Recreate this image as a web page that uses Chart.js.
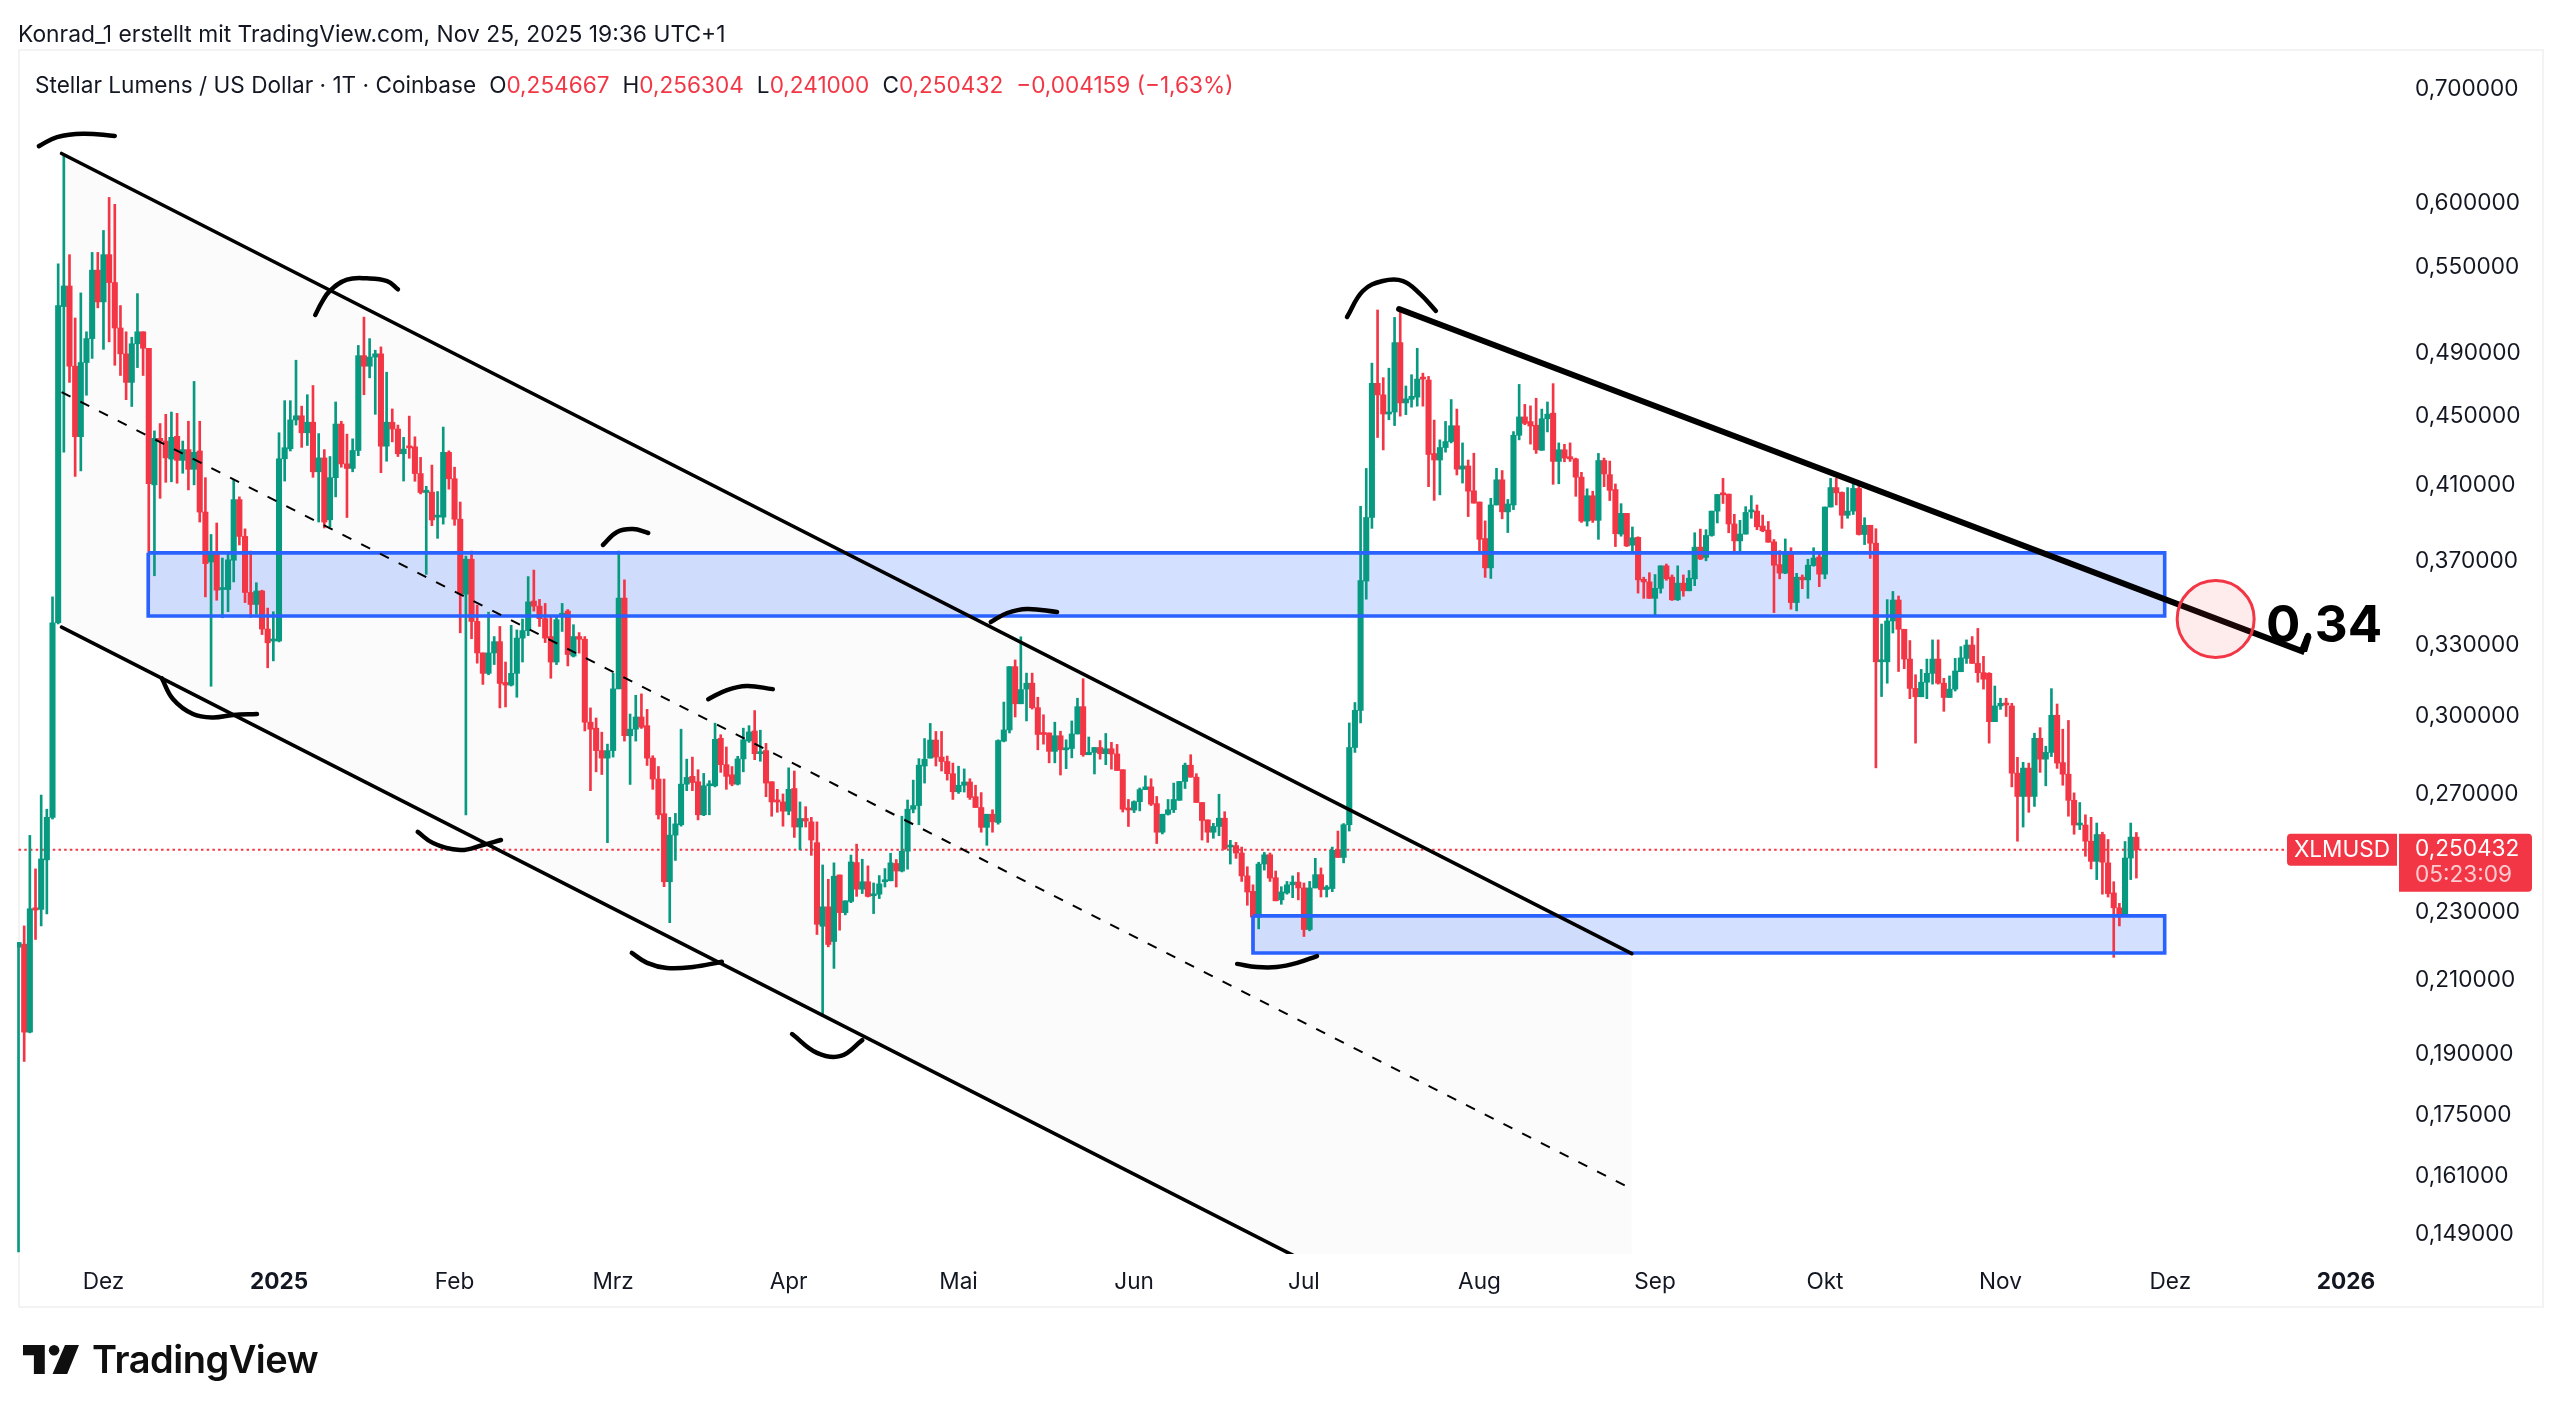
<!DOCTYPE html>
<html lang="de">
<head>
<meta charset="utf-8">
<title>XLMUSD</title>
<script src="https://cdn.jsdelivr.net/npm/chart.js@4"></script>
<style>
  html, body { margin: 0; padding: 0; background: #fff; }
  body { width: 2560px; height: 1419px; position: relative; overflow: hidden; font-family: Inter, "Noto Sans", sans-serif; color: #131722; }
  canvas { position: absolute; left: 0; top: 0; }
  .frame { position: absolute; left: 18px; top: 49px; width: 2522px; height: 1255px; border: 2px solid #f3f3f3; }
  .head { position: absolute; left: 18px; top: 20px; font-size: 22.8px; line-height: 28px; white-space: nowrap; }
  .legend { position: absolute; left: 35px; top: 71px; font-size: 22.6px; line-height: 28px; white-space: nowrap; }
  .legend b { font-weight: 400; margin-left: 13px; }
  .legend i { font-style: normal; color: #F23645; }
  .logo { position: absolute; left: 23px; top: 1336px; display: flex; align-items: center; font-size: 38px; font-weight: 600; letter-spacing: -0.5px; color: #0f0f0f; }
  .logo svg { margin-right: 13px; }
</style>
</head>
<body>
<div class="frame"></div>
<canvas id="chart" width="2560" height="1419"></canvas>
<div class="head">Konrad_1 erstellt mit TradingView.com, Nov 25, 2025 19:36 UTC+1</div>
<div class="legend">Stellar Lumens / US Dollar · 1T · Coinbase<b>O<i>0,254667</i></b><b>H<i>0,256304</i></b><b>L<i>0,241000</i></b><b>C<i>0,250432</i></b><b><i>−0,004159 (−1,63%)</i></b></div>
<div class="logo"><svg width="56" height="29" viewBox="0 0 36 18.6"><path fill="#0f0f0f" d="M0 0h14v18.6H7V6.5H0z"/><circle fill="#0f0f0f" cx="20" cy="3.4" r="3.4"/><path fill="#0f0f0f" d="M27 0h9l-7.6 18.6H19z"/></svg>TradingView</div>
<script>
// daily candles, day number counted from 1 Jan 2025
var firstDay = -46;
var opens = [
  .2195,.2204,.1957,.2315,.2310,.2470,.2616,.3403,.5217,.5364,
  .4813,.4376,.4837,.4996,.5480,.5250,.5596,.5389,.5068,.4894,
  .4709,.4961,.5042,.4931,.4100,.4366,.4350,.4245,.4378,.4238,
  .4300,.4187,.4292,.3952,.3694,.3744,.3559,.3559,.3703,.4019,
  .3824,.3545,.3488,.3552,.3374,.3320,
  .3320,.4247,.4305,.4476,.4501,.4399,.4462,.4173,.4252,.3911,
  .4140,.4451,.4218,.4192,.4295,.4882,.4813,.4873,.4894,.4320,
  .4462,.4421,.4276,.4316,.4316,.4163,.4058,.4060,.3925,.3925,
  .4284,.4134,.3914,.3537,.3708,.3409,.3267,.3178,.3267,.3317,
  .3139,.3128,.3178,.3333,.3367,.3504,.3480,.3422,.3340,.3227,
  .3436,.3457,.3253,.3340,.3328,.2975,.2951,.2863,.2834,.2863,
  .3112,.3518,.2921,.2947,.2996,.2961,.2834,.2755,.2629,.2398,
  .2554,.2590,.2736,.2765,.2745,.2625,.2730,.2730,.2911,.2809,
  .2771,.2736,.2831,.2901,.2940,.2851,.2863,.2745,.2675,.2671,
  .2638,.2720,.2582,.2612,.2600,.2528,.2258,.2318,.2212,.2420,
  .2300,.2335,.2461,.2374,.2398,.2353,.2358,.2398,.2401,.2458,
  .2433,.2499,.2645,.2658,.2804,.2834,.2904,.2838,.2821,.2775,
  .2708,.2732,.2744,.2690,.2651,.2581,.2627,.2598,.2900,.2944,
  .3207,.3050,.3111,.3136,.3034,.2932,.2932,.2860,.2921,.2866,
  .2871,.2928,.3038,.2847,.2856,.2875,.2851,.2870,.2850,.2790,
  .2647,.2642,.2672,.2716,.2726,.2665,.2564,.2627,.2643,.2677,
  .2746,.2807,.2762,.2669,.2607,.2564,.2584,.2613,.2513,.2518,
  .2493,.2417,.2367,.2286,.2456,.2487,.2411,.2340,.2362,.2388,
  .2397,.2378,.2248,.2378,.2421,.2373,.2376,.2505,.2478,.2590,
  .2875,.3023,.3600,.3923,.4703,.4630,.4512,.4524,.4969,.4580,
  .4602,.4616,.4739,.4724,.4277,.4240,.4312,.4347,.4441,.4188,
  .4206,.4067,.4006,.3813,.3665,.3990,.4128,.3953,.3990,.4384,
  .4494,.4466,.4444,.4296,.4483,.4517,.4232,.4299,.4259,.4246,
  .4143,.3904,.4040,.3908,.4237,.4157,.4074,.3836,.3945,.3779,
  .3819,.3609,.3596,.3517,.3565,.3675,.3619,.3510,.3590,.3553,
  .3611,.3769,.3717,.3829,.3957,.4050,.4049,.3889,.3801,.3836,
  .3953,.3957,.3878,.3857,.3796,.3681,.3639,.3745,.3497,.3619,
  .3606,.3676,.3719,.3634,.3979,.4085,.4058,.3935,.3957,.4080,
  .3834,.3882,.3789,.3228,.3228,.3411,.3509,.3373,.3240,.3114,
  .3079,.3140,.3178,.3240,.3136,.3076,.3111,.3185,.3243,.3302,
  .3221,.3181,.3178,.2977,.3041,.3052,.3041,.2777,.2691,.2796,
  .2691,.2911,.2830,.2856,.3003,.2817,.2773,.2677,.2589,.2589,
  .2533,.2465,.2556,.2460,.2362,.2315,.2294,.2476,.2547
];
var highs = [
  .2209,.2259,.2553,.2440,.2696,.2645,.3524,.5527,.6400,.5596,
  .5137,.5314,.5042,.5613,.5613,.5782,.6046,.5990,.5224,.5042,
  .5005,.5309,.5042,.4931,.4410,.4454,.4510,.4524,.4516,.4350,
  .4468,.4715,.4468,.4140,.3834,.3894,.3714,.3740,.4129,.4034,
  .3863,.3749,.3592,.3556,.3471,.3454,
  .4399,.4594,.4594,.4852,.4560,.4631,.4689,.4394,.4300,.4260,
  .4586,.4468,.4391,.4363,.4950,.5143,.4996,.4918,.4940,.4774,
  .4543,.4445,.4372,.4499,.4375,.4255,.4092,.4211,.4063,.4433,
  .4293,.4199,.4006,.3724,.3749,.3485,.3267,.3452,.3340,.3386,
  .3227,.3391,.3370,.3420,.3622,.3654,.3512,.3493,.3433,.3429,
  .3493,.3464,.3394,.3358,.3340,.3033,.2992,.2935,.2888,.3178,
  .3749,.3606,.3008,.3085,.3091,.3027,.2843,.2802,.2755,.2616,
  .2630,.2947,.2830,.2838,.2790,.2776,.2749,.2971,.2925,.2877,
  .2802,.2841,.2951,.2961,.3022,.2943,.2891,.2745,.2717,.2700,
  .2797,.2785,.2671,.2654,.2616,.2600,.2453,.2406,.2460,.2420,
  .2337,.2486,.2523,.2472,.2450,.2394,.2418,.2441,.2492,.2471,
  .2620,.2678,.2751,.2832,.2910,.2970,.2938,.2938,.2842,.2815,
  .2803,.2793,.2756,.2732,.2705,.2627,.2643,.2905,.3057,.3207,
  .3236,.3339,.3179,.3179,.3077,.3005,.2932,.2975,.2939,.2905,
  .2980,.3073,.3155,.2916,.2875,.2902,.2930,.2895,.2887,.2790,
  .2680,.2675,.2722,.2767,.2756,.2691,.2627,.2680,.2740,.2746,
  .2815,.2847,.2775,.2669,.2607,.2595,.2699,.2636,.2536,.2529,
  .2513,.2447,.2388,.2462,.2495,.2493,.2433,.2382,.2399,.2417,
  .2428,.2394,.2399,.2475,.2443,.2386,.2513,.2568,.2594,.2972,
  .3055,.3983,.4192,.4833,.5193,.4739,.4800,.5141,.5209,.4686,
  .4758,.4931,.4768,.4747,.4475,.4357,.4467,.4601,.4542,.4339,
  .4240,.4279,.4006,.3905,.4026,.4193,.4180,.4020,.4406,.4696,
  .4571,.4562,.4609,.4542,.4586,.4701,.4339,.4331,.4339,.4251,
  .4170,.4078,.4065,.4278,.4251,.4234,.4105,.3997,.3945,.3873,
  .3822,.3619,.3641,.3632,.3675,.3684,.3630,.3675,.3630,.3652,
  .3843,.3862,.3859,.3957,.4047,.4136,.4049,.3940,.3908,.3981,
  .4041,.3990,.3936,.3902,.3808,.3751,.3811,.3766,.3638,.3630,
  .3708,.3766,.3745,.3979,.4136,.4136,.4061,.4085,.4131,.4098,
  .3922,.3882,.3864,.3397,.3511,.3550,.3528,.3373,.3322,.3172,
  .3195,.3240,.3325,.3325,.3157,.3167,.3243,.3295,.3325,.3340,
  .3377,.3252,.3181,.3124,.3073,.3073,.3052,.2837,.2818,.2815,
  .2931,.2953,.2880,.3113,.3049,.2947,.2982,.2704,.2669,.2625,
  .2616,.2596,.2564,.2539,.2398,.2329,.2532,.2596,.2563
];
var lows = [
  .1454,.1881,.1955,.2218,.2259,.2296,.2610,.3397,.4285,.4709,
  .4147,.4178,.4628,.4864,.5208,.4924,.4974,.4819,.4753,.4600,
  .4558,.4804,.4753,.3552,.3626,.4026,.4114,.4117,.4109,.4165,
  .4072,.4100,.3899,.3524,.3123,.3508,.3426,.3454,.3596,.3780,
  .3497,.3428,.3443,.3349,.3202,.3232,
  .3316,.4121,.4292,.4445,.4313,.4324,.4142,.3899,.3868,.3873,
  .4034,.4199,.3923,.4173,.4265,.4631,.4738,.4510,.4168,.4233,
  .4345,.4260,.4121,.4250,.4120,.4050,.3633,.3880,.3814,.3888,
  .4076,.3882,.3357,.2625,.3330,.3222,.3131,.3172,.3216,.3033,
  .3037,.3124,.3077,.3227,.3344,.3457,.3386,.3313,.3157,.3216,
  .3363,.3210,.3249,.3266,.2940,.2712,.2782,.2772,.2528,.2838,
  .3112,.2900,.2735,.2900,.2950,.2806,.2717,.2610,.2382,.2269,
  .2468,.2585,.2712,.2712,.2607,.2622,.2625,.2726,.2780,.2717,
  .2730,.2733,.2782,.2895,.2828,.2822,.2690,.2620,.2634,.2585,
  .2625,.2546,.2504,.2582,.2485,.2233,.2000,.2196,.2133,.2246,
  .2293,.2331,.2351,.2360,.2349,.2297,.2344,.2381,.2401,.2381,
  .2430,.2439,.2632,.2590,.2740,.2834,.2804,.2785,.2751,.2680,
  .2702,.2707,.2680,.2651,.2564,.2519,.2564,.2592,.2897,.2932,
  .2996,.3050,.2980,.3028,.2866,.2888,.2816,.2816,.2770,.2794,
  .2835,.2928,.2841,.2847,.2774,.2830,.2809,.2792,.2787,.2635,
  .2584,.2633,.2639,.2716,.2658,.2525,.2558,.2624,.2633,.2677,
  .2720,.2762,.2669,.2537,.2529,.2543,.2552,.2505,.2456,.2475,
  .2399,.2323,.2184,.2250,.2436,.2399,.2337,.2326,.2358,.2347,
  .2340,.2227,.2244,.2378,.2349,.2349,.2366,.2478,.2460,.2568,
  .2856,.2972,.3513,.3866,.4371,.4298,.4477,.4442,.4499,.4508,
  .4554,.4560,.4560,.4090,.4015,.4045,.4285,.4339,.4155,.4110,
  .3928,.4000,.3745,.3618,.3613,.3990,.3916,.3844,.3965,.4357,
  .4447,.4332,.4278,.4296,.4404,.4103,.4106,.4230,.4232,.4037,
  .3897,.3878,.3897,.3809,.4090,.4014,.3772,.3825,.3772,.3744,
  .3542,.3517,.3517,.3439,.3542,.3604,.3507,.3507,.3527,.3553,
  .3578,.3706,.3700,.3825,.3894,.3998,.3843,.3741,.3742,.3836,
  .3919,.3859,.3848,.3794,.3450,.3611,.3636,.3466,.3458,.3563,
  .3517,.3673,.3573,.3611,.3979,.3990,.3866,.3919,.3939,.3831,
  .3782,.3712,.2797,.3080,.3136,.3356,.3186,.3198,.3071,.2892,
  .3079,.3071,.3132,.3132,.3019,.3076,.3103,.3185,.3221,.3221,
  .3140,.3111,.2892,.2977,.3027,.2998,.2726,.2533,.2582,.2634,
  .2655,.2780,.2730,.2840,.2795,.2732,.2620,.2557,.2573,.2482,
  .2440,.2405,.2358,.2349,.2165,.2259,.2294,.2405,.2410
];
var closes = [
  .2209,.1957,.2312,.2308,.2473,.2616,.3403,.5224,.5364,.4813,
  .4376,.4837,.4996,.5480,.5250,.5596,.5389,.5068,.4894,.4709,
  .4961,.5042,.4931,.4107,.4366,.4350,.4252,.4372,.4238,.4300,
  .4187,.4284,.3952,.3686,.3744,.3556,.3568,.3705,.4019,.3824,
  .3545,.3488,.3552,.3374,.3312,.3324,
  .4247,.4311,.4476,.4501,.4399,.4462,.4173,.4252,.3899,.4140,
  .4451,.4218,.4192,.4295,.4882,.4813,.4873,.4894,.4320,.4462,
  .4421,.4276,.4303,.4310,.4163,.4058,.4070,.3910,.3931,.4284,
  .4134,.3914,.3537,.3708,.3409,.3267,.3178,.3267,.3317,.3135,
  .3128,.3178,.3333,.3367,.3500,.3480,.3422,.3333,.3227,.3417,
  .3447,.3260,.3340,.3328,.2975,.2947,.2863,.2834,.2863,.3112,
  .3518,.2921,.2947,.2996,.2955,.2834,.2755,.2625,.2398,.2554,
  .2593,.2736,.2761,.2742,.2625,.2730,.2736,.2907,.2809,.2765,
  .2736,.2831,.2905,.2936,.2851,.2857,.2740,.2671,.2671,.2638,
  .2717,.2582,.2612,.2603,.2537,.2264,.2318,.2203,.2416,.2300,
  .2337,.2463,.2374,.2398,.2351,.2358,.2391,.2401,.2460,.2433,
  .2499,.2645,.2658,.2807,.2830,.2904,.2838,.2821,.2775,.2708,
  .2732,.2744,.2687,.2651,.2581,.2627,.2600,.2902,.2944,.3207,
  .3050,.3109,.3136,.3034,.2926,.2926,.2860,.2921,.2866,.2871,
  .2928,.3038,.2847,.2856,.2875,.2851,.2870,.2850,.2787,.2645,
  .2642,.2672,.2716,.2726,.2663,.2564,.2627,.2643,.2680,.2746,
  .2807,.2762,.2669,.2605,.2564,.2584,.2613,.2508,.2516,.2493,
  .2417,.2365,.2286,.2456,.2487,.2410,.2337,.2365,.2388,.2397,
  .2378,.2248,.2378,.2421,.2373,.2381,.2502,.2478,.2590,.2875,
  .3023,.3602,.3923,.4703,.4630,.4512,.4524,.4969,.4580,.4605,
  .4621,.4730,.4730,.4272,.4240,.4312,.4347,.4441,.4188,.4206,
  .4065,.4000,.3809,.3665,.3990,.4128,.3953,.3995,.4384,.4494,
  .4455,.4439,.4299,.4483,.4511,.4232,.4299,.4251,.4246,.4143,
  .3904,.4040,.3908,.4237,.4161,.4070,.3838,.3945,.3775,.3817,
  .3606,.3596,.3517,.3565,.3675,.3611,.3510,.3590,.3553,.3614,
  .3769,.3709,.3829,.3957,.4047,.4045,.3889,.3801,.3836,.3950,
  .3959,.3874,.3853,.3794,.3678,.3639,.3740,.3497,.3619,.3606,
  .3678,.3714,.3634,.3979,.4085,.4056,.3935,.3957,.4080,.3834,
  .3882,.3789,.3228,.3231,.3411,.3509,.3373,.3240,.3114,.3079,
  .3140,.3178,.3240,.3136,.3076,.3111,.3188,.3245,.3302,.3221,
  .3181,.3153,.2977,.3041,.3052,.3045,.2777,.2691,.2796,.2691,
  .2911,.2830,.2856,.3003,.2815,.2773,.2677,.2589,.2593,.2533,
  .2465,.2556,.2462,.2360,.2315,.2294,.2476,.2547,.2504
];

var priceTicks = [.7,.6,.55,.49,.45,.41,.37,.33,.3,.27,.23,.21,.19,.175,.161,.149];
var timeTickDays = [-31,0,31,59,90,120,151,181,212,243,273,304,334,365];
var timeTickLabels = ['Dez','2025','Feb','Mrz','Apr','Mai','Jun','Jul','Aug','Sep','Okt','Nov','Dez','2026'];

var lastPrice = .250432;

// drawn channel, zones and trend line, in (day, price)
var channelDays = [-38.4, 238.9];
var channelTop = [.6416, .2176];
var channelMid = [.4648, .1583];
var channelLow = [.3383, .1146];
var upperZoneDays = [-23.1, 333];
var upperZone = [.3434, .374];
var lowerZoneDays = [172, 333];
var lowerZone = [.2178, .229];
var trendDays = [197.8, 357.2, 358.3];
var trendPrices = [.52, .3275, .3343];
var targetDay = 342;
var targetPrice = .342;

// hand drawn arcs around the swing points
var arcDays = [
  [-42.4,-39.2,-34.6,-29],
  [6.4,7.6,9,12,15.5,19.1,21],
  [-20.7,-18.7,-15.2,-11.7,-8.1,-3.9],
  [57.2,59.7,62.5,65.2],
  [24.5,27.2,32,36,39.2],
  [75.8,79.1,82.6,87.2],
  [62.3,65,68.5,73.1,78.2],
  [90.6,95,99.2,103],
  [125.7,128.6,132.1,137.4],
  [188.6,191.4,194.9,198.5,201.5,204.3],
  [169.2,172.7,176.2,179.8,183.3]
];
var arcPrices = [
  [.648,.656,.659,.657],
  [.5158,.525,.533,.541,.542,.54,.534],
  [.3157,.3069,.3008,.2994,.3004,.3008],
  [.378,.3847,.3862,.3842],
  [.2565,.2527,.2503,.252,.2537],
  [.3069,.3107,.3124,.3111],
  [.2178,.2149,.2134,.2137,.2152],
  [.1952,.1903,.1895,.1936],
  [.3406,.3448,.3467,.3453],
  [.5144,.5328,.54,.54,.5307,.5186],
  [.2146,.2137,.2137,.2149,.2169]
];

var UP = '#089981', DOWN = '#F23645', BLUE = '#2962FF';

function points(days, prices) {
  return days.map(function (d, i) { return { x: d, y: prices[i] }; });
}
function lineSet(days, prices, opts) {
  return Object.assign({
    type: 'line', data: points(days, prices), borderColor: '#000', borderWidth: 3.6,
    pointRadius: 0, fill: false, tension: 0, order: 1
  }, opts);
}
function commaPrice(v) {
  return v.toFixed(6).replace('.', ',');
}

var candleColors = closes.map(function (c, i) { return c >= opens[i] ? UP : DOWN; });
var wicks = highs.map(function (h, i) { return { x: firstDay + i, y: [lows[i], h] }; });
var bodies = opens.map(function (o, i) {
  return { x: firstDay + i, y: [Math.min(o, closes[i]), Math.max(o, closes[i])] };
});

var datasets = [
  // channel background sits at the very back
  lineSet(channelDays, channelTop, { borderWidth: 0, fill: '+1', backgroundColor: '#fbfbfb', order: 30 }),
  lineSet(channelDays, channelLow, { borderWidth: 0, order: 30 }),
  lineSet(upperZoneDays, [upperZone[1], upperZone[1]], { borderWidth: 0, fill: { value: upperZone[0] }, backgroundColor: 'rgba(41,98,255,0.2)', order: 25 }),
  lineSet(lowerZoneDays, [lowerZone[1], lowerZone[1]], { borderWidth: 0, fill: { value: lowerZone[0] }, backgroundColor: 'rgba(41,98,255,0.2)', order: 25 }),
  lineSet([firstDay - 1, 354.6], [lastPrice, lastPrice], { borderColor: DOWN, borderWidth: 2, borderDash: [2.5, 3.2], order: 20 }),
  { type: 'bar', data: wicks, backgroundColor: candleColors, barThickness: 2, grouped: false, order: 11 },
  { type: 'bar', data: bodies, backgroundColor: candleColors, barThickness: 5.4, minBarLength: 2, grouped: false, order: 10 },
  // zone outlines, long dash keeps the vertical edges in the path
  lineSet([upperZoneDays[0], upperZoneDays[1], upperZoneDays[1], upperZoneDays[0], upperZoneDays[0]],
    [upperZone[1], upperZone[1], upperZone[0], upperZone[0], upperZone[1]], { borderColor: BLUE, borderDash: [5000, 1], order: 5 }),
  lineSet([lowerZoneDays[0], lowerZoneDays[1], lowerZoneDays[1], lowerZoneDays[0], lowerZoneDays[0]],
    [lowerZone[1], lowerZone[1], lowerZone[0], lowerZone[0], lowerZone[1]], { borderColor: BLUE, borderDash: [5000, 1], order: 5 }),
  lineSet(channelDays, channelTop, { borderCapStyle: 'round' }),
  lineSet(channelDays, channelLow, { borderCapStyle: 'round' }),
  lineSet(channelDays, channelMid, { borderWidth: 2, borderDash: [10, 11] }),
  lineSet(trendDays, trendPrices, { borderWidth: 6, borderCapStyle: 'round', borderDash: [5000, 1] }),
  lineSet([targetDay], [targetPrice], {
    showLine: false, pointRadius: 38.5, pointBorderWidth: 3, pointBorderColor: DOWN,
    pointBackgroundColor: 'rgba(242,54,69,0.1)', order: 0
  })
];
arcDays.forEach(function (days, i) {
  datasets.push(lineSet(days, arcPrices[i], { borderWidth: 4.5, tension: 0.4, borderCapStyle: 'round' }));
});

// price tag on the axis and the hand written target label
var tagsPlugin = {
  id: 'tags',
  afterDraw: function (chart) {
    var ctx = chart.ctx, x = chart.scales.x, y = chart.scales.y;
    var yy = y.getPixelForValue(lastPrice);
    ctx.save();
    ctx.fillStyle = DOWN;
    ctx.beginPath();
    ctx.roundRect(2287, yy - 16, 110, 32, [4, 0, 0, 4]);
    ctx.fill();
    ctx.beginPath();
    ctx.roundRect(2399, yy - 16, 133, 58, [0, 4, 4, 0]);
    ctx.fill();
    ctx.fillStyle = '#fff';
    ctx.textBaseline = 'middle';
    ctx.font = '22.6px Inter';
    ctx.textAlign = 'center';
    ctx.fillText('XLMUSD', 2342, yy + 1);
    ctx.textAlign = 'left';
    ctx.fillText(commaPrice(lastPrice), 2415, yy);
    ctx.fillStyle = 'rgba(255,255,255,0.75)';
    ctx.fillText('05:23:09', 2415, yy + 26);
    ctx.fillStyle = '#000';
    ctx.font = 'bold 51px Inter';
    ctx.textBaseline = 'alphabetic';
    ctx.fillText('0,34', x.getPixelForValue(350.9), y.getPixelForValue(.3315));
    ctx.restore();
  }
};

new Chart(document.getElementById('chart'), {
  type: 'bar',
  data: { datasets: datasets },
  plugins: [tagsPlugin],
  options: {
    responsive: false,
    devicePixelRatio: 1,
    animation: false,
    layout: { autoPadding: false, padding: { left: 17, top: 50, right: 19, bottom: 114 } },
    plugins: { legend: { display: false }, tooltip: { enabled: false } },
    scales: {
      x: {
        type: 'linear', min: -46.27, max: 374.2, offset: false,
        grid: { display: false, drawTicks: false }, border: { display: false },
        afterFit: function (s) { s.height = 51; },
        afterBuildTicks: function (s) {
          s.ticks = timeTickDays.map(function (d) { return { value: d }; });
        },
        ticks: {
          autoSkip: false, maxRotation: 0, padding: 15, color: '#131722',
          font: function (c) {
            var isYear = /^\d+$/.test(timeTickLabels[c.index] || '');
            return { family: 'Inter', size: 22.6, weight: isYear ? 'bold' : 'normal' };
          },
          callback: function (v, i) { return timeTickLabels[i]; }
        }
      },
      y: {
        type: 'logarithmic', position: 'right', min: .145, max: .7379,
        grid: { display: false, drawTicks: false }, border: { display: false },
        afterFit: function (s) { s.width = 143; },
        afterBuildTicks: function (s) {
          s.ticks = priceTicks.map(function (p) { return { value: p }; });
        },
        ticks: {
          autoSkip: false, padding: 17, color: '#131722', font: { family: 'Inter', size: 22.6 },
          callback: function (v) { return commaPrice(v); }
        }
      }
    }
  }
});
</script>
</body>
</html>
